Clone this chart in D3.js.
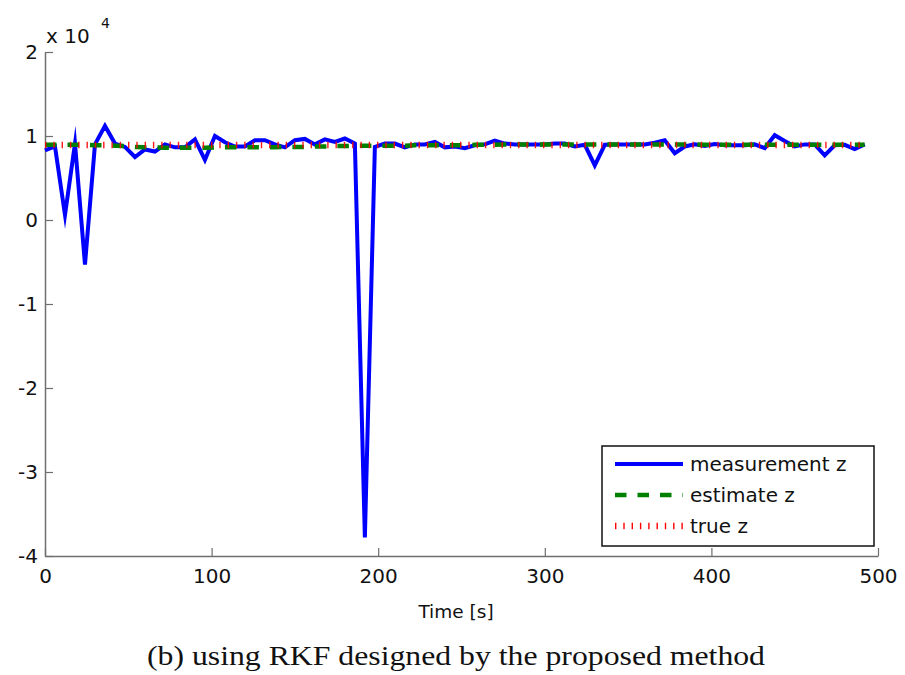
<!DOCTYPE html>
<html>
<head>
<meta charset="utf-8">
<script src="https://cdn.jsdelivr.net/npm/d3@7"></script>
<style>
  html, body { margin: 0; padding: 0; background: #fff; }
  svg { display: block; }
</style>
</head>
<body>
<svg id="chart" width="905" height="675"></svg>
<script>
// ---- data ----
const timeS = [0,6,12,18,24,30,36,42,48,54,60,66,72,78,84,90,96,102,108,114,120,126,132,138,144,150,156,162,168,174,180,186,192,198,204,210,216,222,228,234,240,246,252,258,264,270,276,282,288,294,300,306,312,318,324,330,336,342,348,354,360,366,372,378,384,390,396,402,408,414,420,426,432,438,444,450,456,462,468,474,480,486,492];
const measurementZ = [8300,8750,600,9100,-5300,9000,11200,9100,8700,7500,8400,8150,9000,8650,8650,9600,7150,10000,9250,8750,8750,9500,9500,9000,8650,9500,9650,9000,9600,9300,9700,9100,-37800,8700,9100,9100,8650,9000,9000,9300,8650,8750,8550,8900,9000,9450,9100,9000,9000,9000,9000,9100,9100,8750,8950,6500,8950,9000,9000,9000,9000,9200,9500,7950,8750,9000,8800,9050,8900,8900,8900,9000,8550,10100,9400,8750,9000,9000,7700,8900,8950,8450,9000];
const estimateZ = [8950,8950,8950,8950,8950,8900,8900,8850,8800,8700,8650,8650,8600,8600,8600,8600,8600,8650,8650,8650,8650,8650,8650,8650,8700,8700,8700,8750,8750,8800,8800,8850,8850,8850,8850,8850,8850,8900,8900,8900,8900,8900,8900,8950,8950,8950,9000,9000,9000,9000,9000,9000,9000,9000,9000,9000,9000,9000,9000,9000,9000,9000,9000,9000,9000,9000,8950,8950,8950,8950,8950,8950,8950,8950,8950,8950,8950,8950,8950,8950,8950,8950,8950];
const trueZ = [8930,8930,8930,8930,8930,8930,8930,8930,8930,8930,8930,8930,8930,8930,8930,8930,8930,8930,8930,8930,8930,8930,8930,8930,8930,8930,8930,8930,8930,8930,8930,8930,8930,8930,8930,8930,8930,8930,8930,8930,8930,8930,8930,8930,8930,8930,8930,8930,8930,8930,8930,8930,8930,8930,8930,8930,8930,8930,8930,8930,8930,8930,8930,8930,8930,8930,8930,8930,8930,8930,8930,8930,8930,8930,8930,8930,8930,8930,8930,8930,8930,8930,8930];
const xTicks = [0,100,200,300,400,500];
const yTicks = [-40000,-30000,-20000,-10000,0,10000,20000];
const legendLabels = ["measurement z","estimate z","true z"];
const xLabel = "Time [s]";
const caption = "(b) using RKF designed by the proposed method";

// ---- layout ----
const svg = d3.select("#chart");
const mLeft = 45, mRight = 878, mTop = 52, mBottom = 556;
const x = d3.scaleLinear().domain([0, 500]).range([mLeft, mRight]);
const y = d3.scaleLinear().domain([-40000, 20000]).range([mBottom, mTop]);
const axisColor = "#6f6f6f";
const sans = "'DejaVu Sans', 'Noto Sans', sans-serif";

// axes
const xAxis = d3.axisBottom(x).tickValues(xTicks).tickSizeInner(-8).tickSizeOuter(0).tickPadding(13).tickFormat(d3.format("d"));
const yAxis = d3.axisLeft(y).tickValues(yTicks).tickSizeInner(-8).tickSizeOuter(0).tickPadding(7).tickFormat(d => d / 10000);

const gx = svg.append("g").attr("transform", `translate(0,${mBottom})`).call(xAxis);
const gy = svg.append("g").attr("transform", `translate(${mLeft},0)`).call(yAxis);
[gx, gy].forEach(g => {
  g.select(".domain").attr("stroke", axisColor).attr("stroke-width", 1.5);
  g.selectAll(".tick line").attr("stroke", axisColor).attr("stroke-width", 1.2);
  g.selectAll(".tick text").attr("fill", "#111").style("font-family", sans).style("font-size", "20px");
});

// exponent label
svg.append("text").attr("x", mLeft + 1).attr("y", 43).text("x 10")
  .style("font-family", sans).style("font-size", "20px").attr("fill", "#111");
svg.append("text").attr("x", 101).attr("y", 28).text("4")
  .style("font-family", sans).style("font-size", "14px").attr("fill", "#111");

// lines
const line = vals => d3.line().x((d, i) => x(timeS[i])).y(d => y(d))(vals);

svg.append("path").attr("d", line(measurementZ))
  .attr("fill", "none").attr("stroke", "#0000ff").attr("stroke-width", 4)
  .attr("stroke-linejoin", "miter").attr("stroke-miterlimit", 10);
svg.append("path").attr("d", line(estimateZ))
  .attr("fill", "none").attr("stroke", "#008000").attr("stroke-width", 4.5)
  .attr("stroke-dasharray", "11.5 11");
svg.append("path").attr("d", line(trueZ))
  .attr("fill", "none").attr("stroke", "#ff0000").attr("stroke-width", 6.5)
  .attr("stroke-dasharray", "1.4 6.9").attr("opacity", 0.9);

// axis labels
svg.append("text").attr("x", 456).attr("y", 618).attr("text-anchor", "middle")
  .text(xLabel).style("font-family", sans).style("font-size", "18.5px").attr("fill", "#111");
svg.append("text").attr("x", 456).attr("y", 665).attr("text-anchor", "middle")
  .attr("textLength", 618).attr("lengthAdjust", "spacingAndGlyphs")
  .text(caption).style("font-family", "'Liberation Serif', 'DejaVu Serif', serif").style("font-size", "27px").attr("fill", "#111");

// legend
const lg = svg.append("g");
lg.append("rect").attr("x", 602).attr("y", 446).attr("width", 272).attr("height", 100)
  .attr("fill", "#fff").attr("stroke", "#111").attr("stroke-width", 1.5);
const legStyles = [
  {stroke: "#0000ff", w: 4, dash: null},
  {stroke: "#008000", w: 4.5, dash: "11.5 11"},
  {stroke: "#ff0000", w: 6.5, dash: "1.4 6.9"}
];
const legY = [464, 495, 526];
legendLabels.forEach((lab, i) => {
  lg.append("line").attr("x1", 615).attr("x2", 683).attr("y1", legY[i]).attr("y2", legY[i])
    .attr("stroke", legStyles[i].stroke).attr("stroke-width", legStyles[i].w)
    .attr("stroke-dasharray", legStyles[i].dash);
  lg.append("text").attr("x", 690).attr("y", legY[i] + 7).text(lab)
    .style("font-family", sans).style("font-size", "20px").attr("fill", "#111");
});
</script>
</body>
</html>
